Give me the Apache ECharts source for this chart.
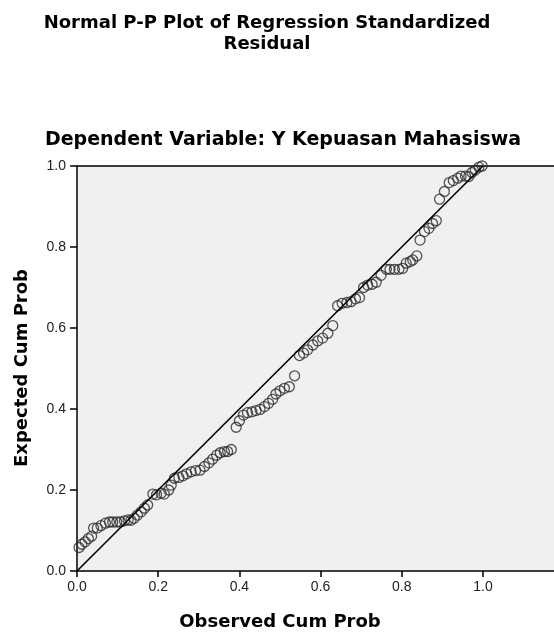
<!DOCTYPE html>
<html>
<head>
<meta charset="utf-8">
<script src="https://cdn.jsdelivr.net/npm/echarts@6/dist/echarts.min.js"></script>
<style>html,body{margin:0;padding:0;background:#fff;}#chart{width:554px;height:632px;}</style>
</head>
<body>
<div id="chart"></div>
<script>
// Observed cumulative probability (x) and expected cumulative probability (y)
const observedCum = [
  0.005,0.012,0.020,0.028,0.036,0.041,0.050,0.059,0.070,0.080,0.088,0.098,0.107,0.117,0.126,0.133,0.141,0.149,0.158,0.166,0.174,0.187,0.196,0.207,0.215,0.226,
  0.232,0.240,0.251,0.261,0.270,0.281,0.292,0.303,0.314,0.325,0.334,0.344,0.353,0.363,0.371,0.380,0.392,0.400,0.410,0.420,0.431,0.441,0.451,0.462,0.472,0.482,0.490,0.500,0.511,0.523,
  0.536,0.548,0.558,0.568,0.581,0.593,0.605,0.618,0.630,0.642,0.653,0.665,0.675,0.686,0.696,0.706,0.716,0.727,0.737,0.749,0.762,
  0.771,0.782,0.793,0.802,0.811,0.821,0.827,0.837,0.845,0.856,0.867,0.876,0.885,0.893,0.905,0.917,0.927,0.938,0.946,0.957,0.965,0.973,0.981,0.990,0.998
];
const expectedCum = [
  0.058,0.066,0.072,0.080,0.086,0.106,0.106,0.112,0.118,0.121,0.121,0.121,0.121,0.124,0.126,0.125,0.130,0.138,0.146,0.155,0.163,0.190,0.188,0.192,0.190,0.200,
  0.212,0.229,0.231,0.235,0.240,0.245,0.248,0.249,0.258,0.267,0.276,0.286,0.292,0.295,0.295,0.300,0.355,0.371,0.385,0.391,0.393,0.396,0.399,0.406,0.414,0.424,0.437,0.445,0.451,0.455,
  0.482,0.532,0.538,0.546,0.558,0.568,0.575,0.587,0.606,0.655,0.661,0.663,0.665,0.672,0.675,0.700,0.706,0.708,0.713,0.730,0.745,
  0.745,0.745,0.745,0.747,0.760,0.764,0.768,0.778,0.817,0.838,0.846,0.858,0.865,0.918,0.937,0.959,0.964,0.970,0.975,0.975,0.974,0.984,0.990,0.997,1.000
];
const referenceLine = [[0, 0], [1, 1]];
const tickValues = [0, 0.2, 0.4, 0.6, 0.8, 1.0];
const titleLines = ['Normal P-P Plot of Regression Standardized', 'Residual'];
const subtitleText = 'Dependent Variable: Y Kepuasan Mahasiswa';
const xAxisTitle = 'Observed Cum Prob';
const yAxisTitle = 'Expected Cum Prob';

const points = observedCum.map((x, i) => [x, expectedCum[i]]);

const chart = echarts.init(document.getElementById('chart'), null, {renderer: 'canvas'});
const headFont = '"DejaVu Sans", sans-serif';
const tickFont = '"Liberation Sans", Arial, sans-serif';

chart.setOption({
  animation: false,
  backgroundColor: '#ffffff',
  grid: {left: 77, top: 166, right: 0, bottom: 61, show: true, backgroundColor: '#f0f0f0', borderWidth: 0},
  xAxis: [{
    type: 'value', min: 0, max: 1.175,
    axisLine: {show: true, onZero: false, lineStyle: {color: '#000', width: 1.5}},
    axisTick: {show: true, inside: false, length: 6, lineStyle: {color: '#000', width: 1.5}, customValues: tickValues},
    axisLabel: {show: true, margin: 9, color: '#222', fontSize: 14, fontFamily: tickFont, customValues: tickValues,
      formatter: v => v.toFixed(1)},
    splitLine: {show: false}
  }, {
    type: 'value', min: 0, max: 1.175, position: 'top',
    axisLine: {show: true, onZero: false, lineStyle: {color: '#000', width: 1.5}},
    axisTick: {show: false}, axisLabel: {show: false}, splitLine: {show: false}
  }],
  yAxis: {
    type: 'value', min: 0, max: 1, interval: 0.2,
    axisLine: {show: true, onZero: false, lineStyle: {color: '#000', width: 1.5}},
    axisTick: {show: true, inside: false, length: 7, lineStyle: {color: '#000', width: 1.5}},
    axisLabel: {show: true, margin: 11, color: '#222', fontSize: 14, fontFamily: tickFont,
      formatter: v => v.toFixed(1)},
    splitLine: {show: false}
  },
  graphic: [
    {type: 'text', x: 267, y: 23, style: {text: titleLines[0], fill: '#000', font: 'bold 18px ' + headFont, align: 'center', verticalAlign: 'middle'}},
    {type: 'text', x: 267, y: 44, style: {text: titleLines[1], fill: '#000', font: 'bold 18px ' + headFont, align: 'center', verticalAlign: 'middle'}},
    {type: 'text', x: 283, y: 140, style: {text: subtitleText, fill: '#000', font: 'bold 19px ' + headFont, align: 'center', verticalAlign: 'middle'}},
    {type: 'text', x: 280, y: 622, style: {text: xAxisTitle, fill: '#000', font: 'bold 18px ' + headFont, align: 'center', verticalAlign: 'middle'}},
    {type: 'text', x: 22, y: 368, rotation: Math.PI / 2, style: {text: yAxisTitle, fill: '#000', font: 'bold 18px ' + headFont, align: 'center', verticalAlign: 'middle'}}
  ],
  series: [{
    type: 'line', xAxisIndex: 0, data: referenceLine, symbol: 'none', silent: true,
    lineStyle: {color: '#000', width: 1.6}, z: 3
  }, {
    type: 'scatter', xAxisIndex: 0, data: points, symbol: 'circle', symbolSize: 10,
    itemStyle: {color: 'rgba(0,0,0,0)', borderColor: '#2a2a2a', borderWidth: 1.3}, z: 2
  }]
});
</script>
</body>
</html>
